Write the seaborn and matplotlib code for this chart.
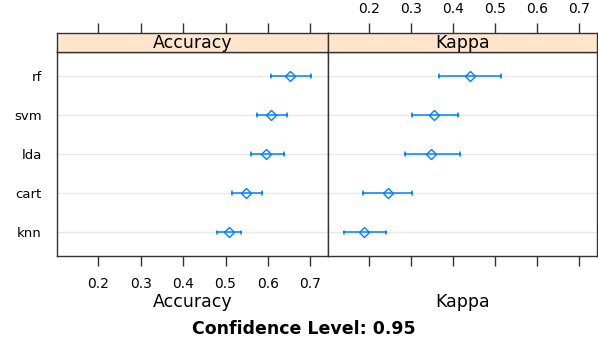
import matplotlib
matplotlib.use("Agg")
import matplotlib.pyplot as plt
import seaborn as sns
import pandas as pd

models = ["rf", "svm", "lda", "cart", "knn"]
acc_low = [0.608, 0.575, 0.559, 0.516, 0.480]
acc_mid = [0.653, 0.608, 0.595, 0.548, 0.508]
acc_high = [0.703, 0.644, 0.637, 0.586, 0.536]
kap_low = [0.366, 0.301, 0.286, 0.186, 0.140]
kap_mid = [0.441, 0.354, 0.347, 0.244, 0.187]
kap_high = [0.514, 0.411, 0.415, 0.303, 0.240]
xticks = [0.2, 0.3, 0.4, 0.5, 0.6, 0.7]
metrics = ["Accuracy", "Kappa"]

rows = []
for metric, lo, mi, hi in [("Accuracy", acc_low, acc_mid, acc_high),
                           ("Kappa", kap_low, kap_mid, kap_high)]:
    for m, a, b, c in zip(models, lo, mi, hi):
        for v in (a, b, c):
            rows.append({"metric": metric, "model": m, "value": v})
df = pd.DataFrame(rows)

sns.set_theme(style="white")
plt.rcParams["font.family"] = ["DejaVu Sans"]

W, H = 598, 339
fig = plt.figure(figsize=(W / 100, H / 100), dpi=100)

x0, xm, x1 = 57 / W, 328 / W, 597 / W
pb, pt, st = 1 - 256 / H, 1 - 52 / H, 1 - 33 / H
blue = "#0080ff"
edge = "#333333"
xlim = (0.102, 0.742)

for i, metric in enumerate(metrics):
    left = x0 if i == 0 else xm
    width = (xm - x0) if i == 0 else (x1 - xm)
    ax = fig.add_axes([left, pb, width, pt - pb])
    sub = df[df.metric == metric]
    for m in models:
        ax.axhline(models.index(m), color="#e8e8e8", lw=1.0, zorder=0)
    sns.pointplot(data=sub, x="value", y="model", order=models,
                  estimator="median", errorbar=("pi", 100), capsize=0.1,
                  linestyle="none", color=blue, markers="D",
                  markersize=5.0, markerfacecolor="none",
                  markeredgewidth=1.0, err_kws={"linewidth": 1.1},
                  ax=ax)
    ax.set_xlim(*xlim)
    ax.set_ylim(4.6, -0.6)
    ax.set_xlabel("")
    ax.set_ylabel("")
    ax.set_xticks(xticks)
    for s in ax.spines.values():
        s.set_color(edge)
        s.set_linewidth(1.0)
    ax.tick_params(axis="y", length=0, labelsize=9.5, colors="#000000", pad=11)
    if i == 0:
        ax.set_xticklabels([f"{t:.1f}" for t in xticks])
        ax.tick_params(axis="x", direction="out", length=7, width=1,
                       color=edge, labelsize=10, pad=8, bottom=True,
                       labelcolor="#000000")
        ax.set_yticks(range(len(models)))
        ax.set_yticklabels(models)
    else:
        ax.tick_params(axis="x", direction="out", length=7, width=1,
                       color=edge, labelbottom=False, bottom=True)
        ax.tick_params(axis="y", labelleft=False)
    fig.text(left + width / 2, 1 - 302 / H, metric, ha="center", va="center",
             fontsize=12.5, color="#000000")

    sax = fig.add_axes([left, pt, width, st - pt])
    sax.set_facecolor("#ffe5cc")
    sax.set_xlim(*xlim)
    sax.set_yticks([])
    sax.set_xticks(xticks)
    for s in sax.spines.values():
        s.set_color(edge)
        s.set_linewidth(1.0)
    sax.tick_params(axis="x", bottom=False, labelbottom=False, top=True,
                    direction="out", length=7, width=1, color=edge,
                    labeltop=(i == 1), labelsize=10, pad=5,
                    labelcolor="#000000")
    if i == 1:
        sax.set_xticklabels([f"{t:.1f}" for t in xticks])
    sax.text(0.5, 0.45, metric, transform=sax.transAxes, ha="center",
             va="center", fontsize=12.5, color="#000000")

fig.text(304 / W, 1 - 329 / H, "Confidence Level: 0.95", ha="center",
         va="center", fontsize=12.5, fontweight="bold", color="#000000")

fig.savefig("out.png", dpi=100)
